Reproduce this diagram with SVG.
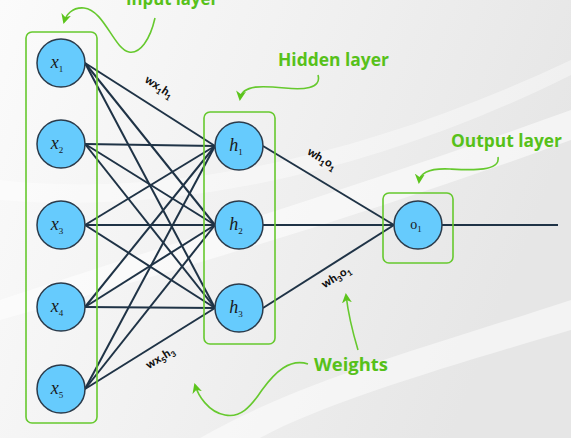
<svg xmlns="http://www.w3.org/2000/svg" width="571" height="438" viewBox="0 0 571 438">
<defs>
<linearGradient id="bg" x1="0" y1="0" x2="1" y2="0.3">
<stop offset="0" stop-color="#fbfbfb"/>
<stop offset="0.5" stop-color="#f1f1f1"/>
<stop offset="1" stop-color="#e6e6e6"/>
</linearGradient>
<marker id="ah" viewBox="0 0 10 10" refX="8" refY="5" markerWidth="10" markerHeight="10" markerUnits="userSpaceOnUse" orient="auto">
<path d="M0,0 L10,5 L0,10 L3,5 z" fill="#5cc41c"/>
</marker>
<style>
.edge{stroke:#1f3346;stroke-width:2;fill:none}
.box{fill:none;stroke:#66c92e;stroke-width:1.6}
.node{fill:#66cbfd;stroke:#2b3b4b;stroke-width:1.5}
.lab{font-family:"Liberation Serif",serif;font-style:italic;font-size:18px;fill:#1a1a1a}
.sub{font-size:9px;font-style:normal}
.wl{font-family:"Lato","Liberation Sans",sans-serif;font-weight:900;font-size:11.5px;fill:#111}
.ws{font-size:8px}
.gt{font-family:"Open Sans","Liberation Sans",sans-serif;font-weight:bold;font-size:18.5px;fill:#57c11a}
.curve{fill:none;stroke:#66c92e;stroke-width:1.6;marker-end:url(#ah)}
</style>
</defs>
<rect width="571" height="438" fill="url(#bg)"/>
<path d="M0,300 C150,250 350,190 571,110 L571,140 C380,210 180,270 0,320 z" fill="#ffffff" opacity="0.55"/>
<path d="M200,438 C300,380 450,340 571,300 L571,330 C470,360 330,400 260,438 z" fill="#ffffff" opacity="0.5"/>
<path d="M0,180 C180,200 380,150 571,60 L571,75 C380,170 180,215 0,200 z" fill="#ffffff" opacity="0.4"/>

<g id="connectors">
<line class="edge" x1="85" y1="63" x2="215" y2="146"/>
<line class="edge" x1="85" y1="63" x2="215" y2="225"/>
<line class="edge" x1="85" y1="63" x2="215" y2="308"/>
<line class="edge" x1="85" y1="144" x2="215" y2="146"/>
<line class="edge" x1="85" y1="144" x2="215" y2="225"/>
<line class="edge" x1="85" y1="144" x2="215" y2="308"/>
<line class="edge" x1="85" y1="225" x2="215" y2="146"/>
<line class="edge" x1="85" y1="225" x2="215" y2="225"/>
<line class="edge" x1="85" y1="225" x2="215" y2="308"/>
<line class="edge" x1="85" y1="307" x2="215" y2="146"/>
<line class="edge" x1="85" y1="307" x2="215" y2="225"/>
<line class="edge" x1="85" y1="307" x2="215" y2="308"/>
<line class="edge" x1="85" y1="389" x2="215" y2="146"/>
<line class="edge" x1="85" y1="389" x2="215" y2="225"/>
<line class="edge" x1="85" y1="389" x2="215" y2="308"/>
<line class="edge" x1="263" y1="146" x2="394" y2="225"/>
<line class="edge" x1="263" y1="225" x2="394" y2="225"/>
<line class="edge" x1="263" y1="308" x2="394" y2="225"/>
<line class="edge" x1="442" y1="225" x2="558" y2="225"/>
</g>

<g id="input-layer">
<rect class="box" x="26" y="32" width="71" height="391" rx="6"/>
</g>
<g id="hidden-layer">
<rect class="box" x="204" y="112" width="71" height="232" rx="6"/>
</g>
<g id="output-layer">
<rect class="box" x="383" y="193" width="70" height="70" rx="6"/>
</g>

<g id="x1"><circle class="node" cx="61" cy="63" r="24"/><text class="lab" x="57" y="68" text-anchor="middle">x<tspan class="sub" dy="4">1</tspan></text></g>
<g id="x2"><circle class="node" cx="61" cy="144" r="24"/><text class="lab" x="57" y="149" text-anchor="middle">x<tspan class="sub" dy="4">2</tspan></text></g>
<g id="x3"><circle class="node" cx="61" cy="225" r="24"/><text class="lab" x="57" y="230" text-anchor="middle">x<tspan class="sub" dy="4">3</tspan></text></g>
<g id="x4"><circle class="node" cx="61" cy="307" r="24"/><text class="lab" x="57" y="312" text-anchor="middle">x<tspan class="sub" dy="4">4</tspan></text></g>
<g id="x5"><circle class="node" cx="61" cy="389" r="24"/><text class="lab" x="57" y="394" text-anchor="middle">x<tspan class="sub" dy="4">5</tspan></text></g>

<g id="h1"><circle class="node" cx="239" cy="146" r="24"/><text class="lab" x="236" y="151" text-anchor="middle">h<tspan class="sub" dy="4">1</tspan></text></g>
<g id="h2"><circle class="node" cx="239" cy="225" r="24"/><text class="lab" x="236" y="230" text-anchor="middle">h<tspan class="sub" dy="4">2</tspan></text></g>
<g id="h3"><circle class="node" cx="239" cy="308" r="24"/><text class="lab" x="236" y="313" text-anchor="middle">h<tspan class="sub" dy="4">3</tspan></text></g>

<g id="o1"><circle class="node" cx="418" cy="225" r="24"/><text class="lab" x="416" y="229" text-anchor="middle" style="font-style:normal;font-size:14px">o<tspan class="sub" dy="3">1</tspan></text></g>

<g id="weight-labels">
<text class="wl" transform="translate(157,90) rotate(33)" text-anchor="middle">wx<tspan class="ws" dy="3">1</tspan><tspan dy="-3">h</tspan><tspan class="ws" dy="3">1</tspan></text>
<text class="wl" transform="translate(320,162) rotate(31)" text-anchor="middle">wh<tspan class="ws" dy="3">1</tspan><tspan dy="-3">o</tspan><tspan class="ws" dy="3">1</tspan></text>
<text class="wl" transform="translate(338,280) rotate(-32)" text-anchor="middle">wh<tspan class="ws" dy="3">3</tspan><tspan dy="-3">o</tspan><tspan class="ws" dy="3">1</tspan></text>
<text class="wl" transform="translate(162,361) rotate(-32)" text-anchor="middle">wx<tspan class="ws" dy="3">5</tspan><tspan dy="-3">h</tspan><tspan class="ws" dy="3">3</tspan></text>
</g>

<g id="annotations">
<text class="gt" x="126" y="5" textLength="92" lengthAdjust="spacingAndGlyphs">Input layer</text>
<path class="curve" d="M155,18 C150,40 140,54 129,52 C114,49 104,10 84,8 C72,7 66,15 64,22"/>
<text class="gt" x="278" y="66" textLength="111" lengthAdjust="spacingAndGlyphs">Hidden layer</text>
<path class="curve" d="M318,75 C322,89 302,90 285,88 C264,86 242,84 240,99"/>
<text class="gt" x="451" y="147" textLength="111" lengthAdjust="spacingAndGlyphs">Output layer</text>
<path class="curve" d="M498,157 C501,172 470,170 450,169 C430,168 420,172 419,182"/>
<text class="gt" x="314" y="371" textLength="74" lengthAdjust="spacingAndGlyphs">Weights</text>
<path class="curve" d="M358,350 C352,330 348,312 346,295"/>
<path class="curve" d="M308,364 C290,358 275,372 262,390 C250,408 240,418 225,415 C208,412 198,395 195,385"/>
</g>
</svg>
